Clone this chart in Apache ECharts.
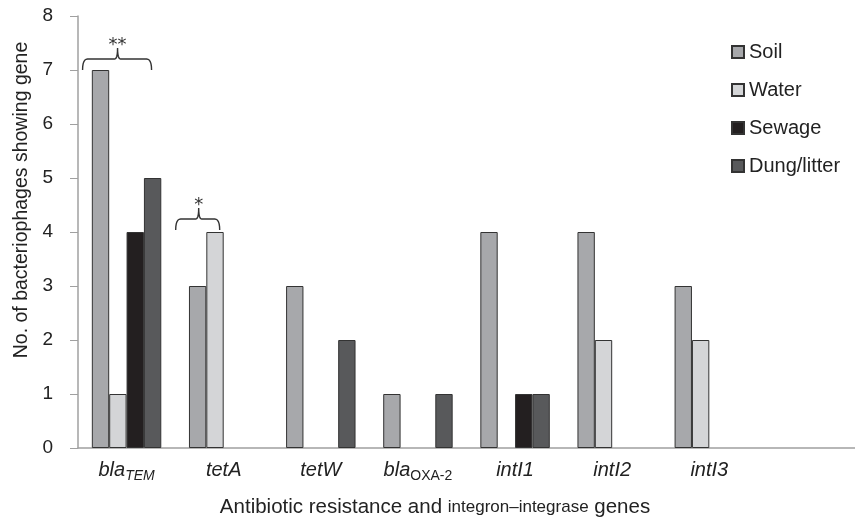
<!DOCTYPE html>
<html>
<head>
<meta charset="utf-8">
<script src="https://cdn.jsdelivr.net/npm/echarts@6/dist/echarts.min.js"></script>
<style>
html,body{margin:0;padding:0;background:#fff;}
#chart{width:855px;height:519px;}
</style>
</head>
<body>
<div id="chart"></div>
<script>
var categories = ['bla_TEM', 'tetA', 'tetW', 'bla_OXA-2', 'intI1', 'intI2', 'intI3', ''];
var soil   = [7, 3, 3, 1, 4, 4, 3, null];
var water  = [1, 4, null, null, null, 2, 2, null];
var sewage = [4, null, null, null, 1, null, null, null];
var dung   = [5, null, 2, 1, 1, null, null, null];
var yTicks = [0, 1, 2, 3, 4, 5, 6, 7, 8];
var seriesNames = ['Soil', 'Water', 'Sewage', 'Dung/litter'];
var seriesColors = ['#a7a8ab', '#d4d5d7', '#231f20', '#58595b'];
// significance brackets over a category
var brackets = [
  {cat: 0, label: '**', top: 7.0},
  {cat: 1, label: '*',  top: 4.0}
];

var FONT = '"Liberation Sans", Arial, Helvetica, sans-serif';
var chart = echarts.init(document.getElementById('chart'));

function catLabel(v) {
  if (v.indexOf('_') >= 0) {
    var p = v.split('_');
    if (p[1] === 'TEM') return '{i|' + p[0] + '}{si|' + p[1] + '}';
    return '{i|' + p[0] + '}{s|' + p[1] + '}';
  }
  return '{i|' + v + '}';
}

var allData = [soil, water, sewage, dung];
var series = seriesNames.map(function (n, k) {
  return {
    name: n,
    type: 'bar',
    data: allData[k],
    barGap: '0%',
    barCategoryGap: '28.5%',
    itemStyle: {color: seriesColors[k], borderColor: '#333', borderWidth: 1},
    emphasis: {disabled: true}
  };
});

chart.setOption({
  animation: false,
  textStyle: {fontFamily: FONT},
  grid: {left: 78, top: 16, width: 783, height: 432},
  legend: {
    orient: 'vertical',
    left: 726,
    top: 37,
    icon: 'rect',
    itemWidth: 12,
    itemHeight: 12,
    itemGap: 18,
    textStyle: {fontSize: 20, color: '#222', fontFamily: FONT},
    data: seriesNames
  },
  xAxis: {
    type: 'category',
    data: categories,
    axisLine: {lineStyle: {color: '#a0a0a0', width: 1.5}},
    axisTick: {length: 5, lineStyle: {color: '#a0a0a0', width: 1.5}},
    axisLabel: {
      interval: 0,
      margin: 10,
      formatter: catLabel,
      rich: {
        i: {fontSize: 20, fontStyle: 'italic', color: '#222', fontFamily: FONT, lineHeight: 22, verticalAlign: 'bottom'},
        si: {fontSize: 14, fontStyle: 'italic', color: '#222', fontFamily: FONT, lineHeight: 22, verticalAlign: 'bottom', padding: [0, 0, -3, 0]},
        s: {fontSize: 14, color: '#222', fontFamily: FONT, lineHeight: 22, verticalAlign: 'bottom', padding: [0, 0, -3, 0]}
      }
    }
  },
  yAxis: {
    type: 'value',
    min: yTicks[0],
    max: yTicks[yTicks.length - 1],
    interval: 1,
    splitLine: {show: false},
    axisLine: {show: true, lineStyle: {color: '#a0a0a0', width: 1.5}},
    axisTick: {show: true, length: 8, lineStyle: {color: '#a0a0a0', width: 1}},
    axisLabel: {fontSize: 19, color: '#222', margin: 25, fontFamily: FONT}
  },
  series: series,
  graphic: [
    {
      type: 'text', id: 'ytitle', x: 22, y: 200, rotation: Math.PI / 2,
      style: {text: 'No. of bacteriophages showing gene', fontSize: 19.5, fill: '#222',
        fontFamily: FONT, align: 'center', verticalAlign: 'middle'}
    },
    {
      type: 'text', id: 'xtitle', x: 435, y: 507,
      style: {
        text: '{a|Antibiotic resistance and }{b|integron–integrase}{a| genes}',
        align: 'center', verticalAlign: 'middle',
        rich: {
          a: {fontSize: 20.5, fill: '#222', fontFamily: FONT},
          b: {fontSize: 17, fill: '#222', fontFamily: FONT}
        }
      }
    }
  ]
});

// sample a quadratic curve into points
function quad(p0, p1, p2, n, out) {
  for (var i = 1; i <= n; i++) {
    var t = i / n, a = (1 - t) * (1 - t), b = 2 * (1 - t) * t, c = t * t;
    out.push([a * p0[0] + b * p1[0] + c * p2[0], a * p0[1] + b * p1[1] + c * p2[1]]);
  }
}

var gfx = [];
brackets.forEach(function (b, idx) {
  var c = chart.convertToPixel({xAxisIndex: 0, yAxisIndex: 0}, [b.cat, b.top]);
  var cx = c[0], yEnd = c[1];
  var L, R, P;
  if (b.cat === 0) { L = cx - 44; R = cx + 25; P = cx - 9; }
  else { L = cx - 48; R = cx - 4; P = cx - 25; yEnd -= 2; }
  var yH = yEnd - 11, yTop = yH - 11;
  var pts = [[L, yEnd]];
  quad([L, yEnd], [L, yH], [L + 5, yH], 6, pts);
  pts.push([P - 3, yH]);
  quad([P - 3, yH], [P, yH], [P, yTop], 6, pts);
  quad([P, yTop], [P, yH], [P + 3, yH], 6, pts);
  pts.push([R - 5, yH]);
  quad([R - 5, yH], [R, yH], [R, yEnd], 6, pts);
  gfx.push({type: 'polyline', id: 'br' + idx, shape: {points: pts},
    style: {fill: null, stroke: '#333', lineWidth: 1.4}});
  gfx.push({type: 'text', id: 'st' + idx, x: P, y: yTop - 3,
    style: {text: b.label, fontSize: 18, fill: '#333', fontFamily: '"DejaVu Sans", sans-serif',
      align: 'center', verticalAlign: 'middle'}});
});
chart.setOption({graphic: gfx});
</script>
</body>
</html>
